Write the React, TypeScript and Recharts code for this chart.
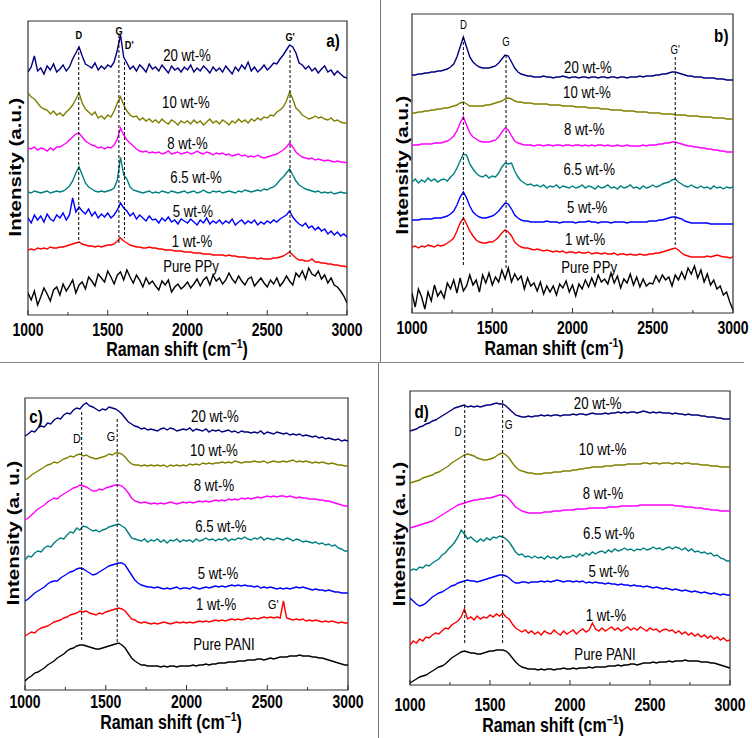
import React from "react";
import { LineChart, Line, XAxis, YAxis, ReferenceLine, ReferenceDot, ReferenceArea } from "recharts";

const ramanShift = [
  1000, 1020, 1040, 1060, 1080, 1100, 1120, 1140, 1160, 1180,
  1200, 1220, 1240, 1260, 1280, 1300, 1320, 1340, 1360, 1380,
  1400, 1420, 1440, 1460, 1480, 1500, 1520, 1540, 1560, 1580,
  1600, 1620, 1640, 1660, 1680, 1700, 1720, 1740, 1760, 1780,
  1800, 1820, 1840, 1860, 1880, 1900, 1920, 1940, 1960, 1980,
  2000, 2020, 2040, 2060, 2080, 2100, 2120, 2140, 2160, 2180,
  2200, 2220, 2240, 2260, 2280, 2300, 2320, 2340, 2360, 2380,
  2400, 2420, 2440, 2460, 2480, 2500, 2520, 2540, 2560, 2580,
  2600, 2620, 2640, 2660, 2680, 2700, 2720, 2740, 2760, 2780,
  2800, 2820, 2840, 2860, 2880, 2900, 2920, 2940, 2960, 2980,
  3000,
];
const xTicks = [1000, 1250, 1500, 1750, 2000, 2250, 2500, 2750, 3000];

const ppyNames = ["20 wt-%", "10 wt-%", "8 wt-%", "6.5 wt-%", "5 wt-%", "1 wt-%", "Pure PPy"];
const paniNames = ["20 wt-%", "10 wt-%", "8 wt-%", "6.5 wt-%", "5 wt-%", "1 wt-%", "Pure PANI"];
const seriesColors = ["#000080", "#808000", "#ff00ff", "#008080", "#0000ff", "#ff0000", "#000000"];

// ---------- panel a ----------
const a20 = [243,248,259,244,247,241,249,245,251,243,246,250,244,248,256,262,268,259,251,249,247,252,245,249,246,250,248,253,265,280,258,252,246,249,244,250,247,243,251,246,248,244,250,246,242,249,245,247,243,248,245,250,243,247,244,249,246,242,248,244,247,243,249,245,241,248,244,250,246,253,244,248,243,246,250,245,248,252,251,256,260,265,270,268,262,252,250,246,249,244,247,242,246,249,243,245,240,244,241,238,237];
const a10 = [222,218,216,212,208,206,205,201,204,200,202,199,203,206,210,216,222,212,206,203,200,203,197,199,196,200,198,204,212,218,210,204,200,198,199,195,197,194,196,193,195,192,196,193,191,195,193,190,194,192,194,191,195,192,194,190,193,196,192,194,191,195,193,190,194,192,196,193,195,192,196,194,197,195,198,197,200,199,203,205,208,214,223,216,207,204,200,198,196,197,199,197,198,196,195,197,194,195,193,192,192];
const a8 = [167,166,168,165,167,166,164,167,165,168,168,170,172,175,178,181,182,178,174,172,170,169,167,168,166,168,167,170,176,187,180,175,172,169,166,164,163,164,162,163,162,163,161,162,164,161,162,163,161,162,163,161,162,164,162,161,163,162,160,162,161,162,160,161,159,160,161,159,160,158,159,158,160,158,157,158,159,160,161,163,165,168,172,168,163,160,158,157,156,157,155,156,155,154,155,154,153,154,153,153,152];
const a65 = [123,122,124,123,122,123,124,122,123,124,123,124,126,129,134,142,148,140,132,128,126,124,123,124,123,124,125,127,135,158,140,136,128,125,124,123,122,123,124,122,123,122,124,123,122,124,123,122,123,124,122,123,124,122,123,125,123,122,124,123,124,122,123,124,123,122,124,123,125,124,123,124,125,124,126,125,127,128,131,135,138,142,146,140,134,130,128,126,125,124,123,124,122,123,122,123,121,122,123,122,122];
const a5 = [97,92,100,95,99,93,101,96,94,100,97,102,95,100,117,103,108,104,101,106,99,103,97,101,98,102,97,100,105,112,107,104,99,102,96,100,97,94,99,95,96,92,97,94,98,93,95,91,96,94,92,96,93,90,95,92,97,91,94,92,95,91,94,92,96,90,93,95,91,94,92,95,90,93,91,94,92,95,93,96,98,100,104,98,94,91,89,92,87,89,85,88,84,86,81,84,80,83,79,81,78];
const a1 = [65,66,65,67,66,67,66,68,67,67,68,68,69,70,71,72,73,71,70,69,69,68,69,68,69,70,70,71,74,77,74,72,70,69,68,68,67,67,68,67,67,66,66,65,65,65,64,64,64,63,63,63,62,62,62,61,61,61,60,60,60,60,59,60,59,59,58,58,58,57,57,57,56,57,56,56,56,57,57,58,59,61,63,60,57,55,55,54,54,56,53,53,52,52,51,51,50,50,49,49,48];
const aPure = [22,15,24,10,18,27,21,14,25,28,20,31,24,29,35,22,30,33,26,38,34,29,41,37,33,44,38,31,40,43,35,45,38,32,40,35,28,37,31,34,29,25,34,30,35,23,28,31,26,29,33,27,31,36,29,35,38,30,40,34,37,31,35,42,36,32,39,34,30,36,38,29,33,37,32,28,35,31,37,29,33,39,34,30,42,38,44,36,47,41,39,44,36,40,32,37,30,28,24,19,12];
const aLabelX = [1997, 1990, 2000, 2053, 2034, 2028, 2022];
const aLabelY = [260, 213, 172, 138, 104, 74, 49];
const aPeakText = ["D", "G", "D'", "G'"];
const aPeakX = [1318, 1571, 1635, 2643];
const aPeakY = [280, 284, 270, 278];
const aDashX = [1318, 1570, 1605, 2643];
const aDashTop = [268, 280, 253, 265];
const aDashBottom = [72, 72, 77, 58];

// ---------- panel b ----------
const b20 = [238,238,239,239,240,240,241,241,242,242,243,244,246,249,256,266,276,266,256,251,248,246,245,245,245,246,247,250,254,258,257,251,245,241,239,238,237,237,236,236,236,237,236,236,235,236,236,237,236,235,236,236,235,236,236,235,236,236,235,236,236,235,236,236,235,236,236,235,236,236,236,237,236,237,237,237,238,238,239,239,240,241,241,240,239,238,237,237,236,236,236,235,235,235,235,234,234,234,233,233,233];
const b10 = [200,200,201,201,202,202,203,203,204,204,205,205,206,207,208,210,211,209,207,207,207,207,207,208,208,209,210,211,212,214,215,214,212,211,211,210,210,210,209,209,209,209,209,208,208,208,208,207,207,207,207,206,206,206,206,205,205,205,205,204,204,204,203,203,203,203,202,202,202,202,201,201,201,201,200,200,200,200,199,199,199,199,198,198,198,198,197,197,197,197,196,196,196,196,195,195,195,195,194,194,194];
const b8 = [168,168,168,169,169,169,169,170,170,170,171,172,174,177,182,190,196,188,180,176,174,172,171,171,171,172,173,176,181,185,183,177,172,170,169,168,168,168,167,168,168,167,168,168,167,168,168,167,168,168,167,168,168,167,168,167,168,167,168,168,167,168,167,167,168,167,167,168,167,167,167,167,168,167,168,168,168,169,169,170,170,171,171,170,169,168,167,167,166,166,165,165,164,164,163,163,162,162,161,161,161];
const b65 = [131,134,130,133,131,135,132,134,131,133,134,132,136,139,145,152,159,158,149,144,140,137,136,138,135,137,136,140,146,150,149,150,142,136,132,130,128,129,127,128,126,128,125,127,126,128,125,127,126,125,127,125,126,128,125,127,126,124,127,125,126,128,125,126,124,127,125,126,128,125,126,124,127,125,126,128,126,127,129,130,131,133,134,131,129,127,126,128,126,125,127,125,126,124,127,125,126,124,126,125,126];
const b5 = [93,93,93,94,94,94,94,95,95,95,96,97,99,102,108,116,121,115,107,101,98,96,95,95,96,97,99,102,106,110,109,104,98,95,93,92,92,91,91,91,91,91,92,91,91,91,90,91,91,91,91,90,91,91,91,92,91,91,90,91,91,91,90,91,91,91,91,90,91,91,91,91,91,91,92,92,92,93,93,94,95,96,96,95,94,92,91,90,90,90,90,90,90,89,89,89,89,89,89,89,89];
const b1 = [66,67,65,67,66,68,67,66,68,67,68,70,72,75,82,90,95,89,82,77,73,71,70,70,71,71,73,76,80,83,81,77,71,68,66,65,65,64,63,64,63,62,63,62,61,62,61,62,60,61,61,60,61,60,60,61,59,60,60,59,60,59,59,60,58,59,59,58,59,58,58,59,58,58,59,59,60,60,61,62,63,64,65,63,60,58,57,56,56,56,56,56,57,56,57,58,57,56,56,55,56];
const bPure = [20,6,24,16,4,21,12,28,17,22,15,30,24,33,20,35,22,27,38,28,33,21,38,30,40,28,36,31,43,34,45,31,39,33,37,24,35,27,30,22,31,19,27,21,27,18,29,25,32,21,28,17,29,24,33,26,35,27,38,31,34,29,40,30,37,25,34,30,39,28,36,26,34,27,30,29,37,31,38,33,36,27,38,33,41,34,45,39,47,35,43,31,39,28,33,24,27,18,21,11,3];
const bLabelX = [2096, 2090, 2073, 2104, 2091, 2079, 2104];
const bLabelY = [246, 221, 184, 144, 106, 74, 46];
const bPeakText = ["D", "G", "G'"];
const bPeakX = [1320, 1586, 2640];
const bPeakY = [288, 271, 263];
const bDashX = [1320, 1586, 2640];
const bDashTop = [276, 258, 256];
const bDashBottom = [46, 44, 68];

// ---------- panel c ----------
const c20 = [254,256,259,258,262,264,263,267,266,270,272,271,275,277,276,280,282,281,285,287,284,283,281,279,281,280,283,282,281,279,276,272,268,266,264,263,261,262,260,261,260,259,261,262,260,262,261,259,260,261,260,262,259,261,260,259,261,258,260,259,260,258,259,260,258,259,257,259,258,258,257,258,257,259,256,258,257,256,258,257,256,257,255,256,255,256,254,255,254,253,254,252,253,251,252,251,250,251,249,250,249];
const c10 = [210,212,215,217,219,221,223,225,226,228,227,229,231,232,234,233,235,236,234,235,233,232,231,232,233,234,236,235,237,237,236,233,229,226,225,225,224,225,224,225,224,225,224,225,223,225,224,225,224,225,224,226,225,226,225,227,226,227,226,227,227,228,227,228,227,229,228,227,228,228,228,229,228,228,229,227,228,229,228,228,229,228,229,230,228,229,228,229,228,227,228,227,228,227,226,227,226,225,225,224,224];
const c8 = [170,172,175,178,181,183,185,188,190,192,191,194,196,198,200,202,203,205,204,203,201,199,199,201,200,202,203,204,205,205,204,201,197,192,189,188,187,188,187,186,187,186,187,186,187,188,187,186,187,188,187,188,187,188,189,188,189,188,189,190,189,190,189,191,190,191,190,192,191,192,191,192,193,192,193,194,193,194,193,194,194,193,194,193,192,193,192,192,191,191,191,190,190,189,189,188,187,186,185,184,184];
const c65 = [130,134,133,137,139,138,142,144,143,147,150,152,151,155,158,157,162,160,164,163,161,159,160,158,160,161,163,164,165,166,164,162,157,152,151,150,149,151,148,150,149,151,148,150,147,150,149,151,148,150,149,150,148,151,149,150,152,150,151,149,151,150,152,149,151,150,152,151,153,151,150,152,151,153,150,152,151,150,152,151,150,152,151,149,151,150,148,149,148,147,148,146,147,145,146,144,145,142,141,139,139];
const c5 = [89,91,94,97,99,101,103,106,108,109,109,112,114,116,118,119,121,122,121,119,117,115,116,118,120,122,124,125,126,127,127,125,120,115,110,107,105,104,103,103,102,103,102,101,102,101,102,103,101,102,102,101,103,102,101,102,103,102,103,104,103,104,103,104,105,104,105,104,105,104,104,103,104,102,103,102,103,102,101,102,101,102,101,102,103,102,103,102,101,100,101,100,100,99,100,99,98,98,97,97,97];
const c1 = [54,56,58,57,60,62,63,64,66,68,69,70,72,73,75,76,77,79,78,79,77,76,75,77,76,78,79,80,81,82,81,79,75,71,70,68,67,68,67,66,67,66,67,68,67,66,67,68,67,68,67,68,67,68,69,68,69,68,69,70,69,70,69,70,71,70,71,70,71,72,71,72,71,72,73,72,73,72,73,72,89,72,71,70,71,70,71,69,70,69,70,69,68,69,68,69,68,67,68,67,67];
const cPure = [9,12,14,17,18,20,22,25,27,29,32,34,36,39,41,42,44,45,45,44,43,42,41,41,42,43,44,45,46,47,45,42,37,32,29,27,25,25,24,24,24,24,23,24,23,24,24,23,24,24,24,24,25,24,25,25,26,25,26,26,27,27,27,28,28,28,29,29,29,30,30,30,31,31,30,31,32,31,32,33,33,33,34,34,34,35,34,34,34,33,33,32,32,31,30,29,28,27,26,25,25];
const cLabelX = [2176, 2170, 2170, 2213, 2195, 2183, 2232];
const cLabelY = [274, 240, 205, 164, 117, 86, 46];
const cPeakText = ["D", "G", "G'"];
const cPeakX = [1322, 1532, 2537];
const cPeakY = [251, 253, 85];
const cDashX = [1351, 1571];
const cDashTop = [278, 271];
const cDashBottom = [48, 47];

// ---------- panel d ----------
const d20 = [254,255,256,258,259,261,262,264,265,267,269,271,273,275,277,278,279,280,278,279,278,279,278,279,280,280,281,282,281,281,279,276,273,270,269,268,268,269,268,269,269,270,269,270,269,270,270,269,270,270,270,271,270,271,271,270,271,272,271,271,271,272,271,272,272,273,272,273,272,273,273,272,273,274,273,272,273,272,273,272,272,272,271,272,271,271,270,271,270,270,270,269,269,268,268,268,267,267,266,266,266];
const d10 = [202,203,204,205,207,208,209,210,212,213,215,217,219,222,224,226,228,230,231,230,229,227,226,225,225,226,227,229,231,232,230,227,222,218,215,214,213,212,212,211,211,211,212,212,212,213,213,213,214,214,214,215,215,216,216,217,217,218,218,218,218,219,219,219,220,220,220,220,221,221,221,221,221,222,222,221,222,222,221,222,222,222,221,222,222,221,222,222,221,221,221,220,220,220,219,219,219,218,218,218,218];
const d8 = [157,158,159,160,161,162,163,164,166,168,170,172,174,176,178,180,181,182,183,184,185,185,186,186,187,187,188,189,190,190,189,186,182,178,176,174,173,172,172,172,172,172,173,173,173,174,174,174,175,175,175,175,176,176,176,176,177,177,177,177,177,177,178,178,178,178,179,179,179,179,179,179,180,180,180,180,180,180,180,180,180,180,180,179,179,179,178,178,178,177,177,177,176,176,175,175,175,174,174,174,174];
const d65 = [114,116,115,118,117,120,119,122,124,126,130,132,136,139,143,148,155,151,146,148,145,143,146,144,147,145,148,147,149,148,146,143,138,133,130,131,128,129,127,129,127,128,126,129,127,128,126,129,127,128,128,130,128,131,129,132,130,133,131,133,134,132,135,133,136,134,135,137,135,136,134,136,135,137,135,136,138,136,137,135,137,138,136,138,137,135,137,134,136,133,134,132,133,131,132,129,130,127,126,124,124];
const d5 = [87,84,81,79,80,82,85,88,90,92,93,95,97,99,100,102,103,104,105,104,104,103,104,105,106,107,108,109,110,110,109,107,104,102,102,103,103,102,103,103,103,104,103,104,103,104,105,104,103,104,104,103,104,103,104,102,103,102,103,102,102,101,102,101,101,100,101,100,100,99,100,99,99,98,99,98,97,98,97,96,97,96,95,96,95,94,95,94,93,94,93,92,93,92,91,92,91,90,91,90,90];
const d1 = [40,44,42,46,44,48,47,50,52,51,54,57,56,60,62,64,68,76,66,68,65,69,66,68,67,70,68,71,69,72,68,66,61,57,55,53,55,52,54,51,53,50,54,52,51,55,52,50,54,51,53,55,51,54,56,53,55,62,56,54,57,54,56,58,55,57,54,56,58,55,57,55,58,56,54,57,55,56,53,55,56,54,55,52,54,51,53,50,52,49,51,48,50,47,49,46,48,45,47,44,45];
const dPure = [2,4,6,8,9,10,12,14,16,18,19,21,24,27,29,31,33,34,33,32,32,31,31,32,33,34,34,35,35,35,34,31,27,23,20,18,17,16,16,16,15,16,15,16,16,15,16,16,17,16,16,17,16,17,17,17,18,17,18,18,18,18,19,19,19,20,19,20,20,21,21,20,21,22,22,22,23,22,23,23,23,24,23,24,24,24,25,24,24,24,24,23,23,23,22,22,21,20,19,18,17];
const dLabelX = [2173, 2204, 2206, 2242, 2242, 2225, 2219];
const dLabelY = [282, 236, 192, 152, 114, 70, 31];
const dPeakText = ["D", "G"];
const dPeakX = [1300, 1617];
const dPeakY = [253, 260];
const dDashX = [1342, 1579];
const dDashTop = [280, 285];
const dDashBottom = [42, 42];

const FONT = "'Liberation Sans', Arial, Helvetica, sans-serif";
const SQ = 0.8;

function SqText(props: any) {
  const { x, y, text, size, bold } = props;
  return (
    <text
      transform={`translate(${x},${y}) scale(${SQ},1)`}
      textAnchor="middle"
      dominantBaseline="central"
      fontSize={size}
      fontWeight={bold ? "bold" : "normal"}
      fontFamily={FONT}
      fill="#000"
    >
      {text}
    </text>
  );
}

function XTick(props: any) {
  const { x, y, payload, off } = props;
  const major = payload.value % 500 === 0;
  return (
    <g>
      <line x1={x} x2={x} y1={y} y2={y - (major ? 5 : 3)} stroke="#333" strokeWidth={1} />
      {major && (
        <text
          transform={`translate(${x},${y + off}) scale(${SQ},1)`}
          textAnchor="middle"
          fontSize={17.5}
          fontWeight="bold"
          fontFamily={FONT}
          fill="#000"
        >
          {payload.value}
        </text>
      )}
    </g>
  );
}

const panels = [
  {
    key: "a", left: 0, top: 0, width: 376, height: 362, mt: 21, mr: 29, yw: 28, xh: 47, ymax: 294,
    series: [a20, a10, a8, a65, a5, a1, aPure], names: ppyNames, labelX: aLabelX, labelY: aLabelY,
    peakText: aPeakText, peakX: aPeakX, peakY: aPeakY, peakSize: 11.5, peakBold: true,
    dashX: aDashX, dashTop: aDashTop, dashBottom: aDashBottom,
    letter: "a)", letterX: 2912, letterY: 275, tickOff: 21,
    xt: [177, 356], yt: [21, 167], ytitle: "Intensity (a.u.)", minus: "\u22121",
  },
  {
    key: "b", left: 381, top: 0, width: 371, height: 362, mt: 14, mr: 19, yw: 31, xh: 49, ymax: 299,
    series: [b20, b10, b8, b65, b5, b1, bPure], names: ppyNames, labelX: bLabelX, labelY: bLabelY,
    peakText: bPeakText, peakX: bPeakX, peakY: bPeakY, peakSize: 12, peakBold: false,
    dashX: bDashX, dashTop: bDashTop, dashBottom: bDashBottom,
    letter: "b)", letterX: 2927, letterY: 278, tickOff: 21,
    xt: [173, 355], yt: [27, 165], ytitle: "Intensity (a.u.)", minus: "-1",
  },
  {
    key: "c", left: 0, top: 364, width: 376, height: 374, mt: 34, mr: 28, yw: 25, xh: 48, ymax: 292,
    series: [c20, c10, c8, c65, c5, c1, cPure], names: paniNames, labelX: cLabelX, labelY: cLabelY,
    peakText: cPeakText, peakX: cPeakX, peakY: cPeakY, peakSize: 13.5, peakBold: false,
    dashX: cDashX, dashTop: cDashTop, dashBottom: cDashBottom,
    letter: "c)", letterX: 1068, letterY: 274, tickOff: 18,
    xt: [171, 365], yt: [19, 169], ytitle: "Intensity (a. u.)", minus: "\u22121",
  },
  {
    key: "d", left: 381, top: 364, width: 371, height: 374, mt: 27, mr: 22, yw: 29, xh: 53, ymax: 294,
    series: [d20, d10, d8, d65, d5, d1, dPure], names: paniNames, labelX: dLabelX, labelY: dLabelY,
    peakText: dPeakText, peakX: dPeakX, peakY: dPeakY, peakSize: 12.5, peakBold: false,
    dashX: dDashX, dashTop: dDashTop, dashBottom: dDashBottom,
    letter: "d)", letterX: 1073, letterY: 274, tickOff: 26,
    xt: [172, 368], yt: [24, 170], ytitle: "Intensity (a. u.)", minus: "\u22121",
  },
];

function Panel({ cfg }: any) {
  const rows = ramanShift.map((x, i) => {
    const r: any = { x };
    cfg.series.forEach((s: number[], k: number) => {
      r["s" + k] = s[i];
    });
    return r;
  });
  const xTitle = () => (
    <text
      transform={`translate(${cfg.xt[0]},${cfg.xt[1]}) scale(${SQ},1)`}
      textAnchor="middle"
      fontSize={20}
      fontWeight="bold"
      fontFamily={FONT}
      fill="#000"
    >
      Raman shift (cm
      <tspan dy={-8} fontSize={13}>{cfg.minus}</tspan>
      <tspan dy={8}>)</tspan>
    </text>
  );
  const yTitle = () => (
    <text
      transform={`translate(${cfg.yt[0]},${cfg.yt[1]}) rotate(-90) scale(1,${SQ})`}
      textAnchor="middle"
      fontSize={20.5}
      fontWeight="bold"
      fontFamily={FONT}
      fill="#000"
    >
      {cfg.ytitle}
    </text>
  );
  return (
    <div style={{ position: "absolute", left: cfg.left, top: cfg.top }}>
      <LineChart
        width={cfg.width}
        height={cfg.height}
        data={rows}
        margin={{ top: cfg.mt, right: cfg.mr, left: 0, bottom: 0 }}
      >
        <XAxis
          dataKey="x"
          type="number"
          domain={[1000, 3000]}
          ticks={xTicks}
          interval={0}
          allowDataOverflow
          height={cfg.xh}
          axisLine={false}
          tickLine={false}
          tickSize={0}
          tickMargin={0}
          tick={(p: any) => <XTick {...p} off={cfg.tickOff} />}
          label={{ content: xTitle }}
        />
        <YAxis
          type="number"
          domain={[0, cfg.ymax]}
          allowDataOverflow
          width={cfg.yw}
          tick={false}
          axisLine={false}
          tickLine={false}
          label={{ content: yTitle }}
        />
        <ReferenceArea
          x1={1000}
          x2={3000}
          y1={0}
          y2={cfg.ymax}
          fill="none"
          fillOpacity={0}
          stroke="#333"
          strokeWidth={1.2}
          ifOverflow="visible"
        />
        {cfg.series.map((_: any, k: number) => (
          <Line
            key={"l" + k}
            dataKey={"s" + k}
            stroke={seriesColors[k]}
            strokeWidth={1.4}
            dot={false}
            type="linear"
            isAnimationActive={false}
          />
        ))}
        {cfg.dashX.map((x: number, k: number) => (
          <ReferenceLine
            key={"dash" + k}
            segment={[{ x, y: cfg.dashTop[k] }, { x, y: cfg.dashBottom[k] }]}
            stroke="#000"
            strokeWidth={1}
            strokeDasharray="3 2"
            ifOverflow="visible"
          />
        ))}
        {cfg.names.map((name: string, k: number) => (
          <ReferenceDot
            key={"n" + k}
            x={cfg.labelX[k]}
            y={cfg.labelY[k]}
            r={0}
            fill="none"
            stroke="none"
            ifOverflow="visible"
            label={(p: any) => <SqText x={p.viewBox.x} y={p.viewBox.y} text={name} size={16.5} />}
          />
        ))}
        {cfg.peakText.map((t: string, k: number) => (
          <ReferenceDot
            key={"p" + k}
            x={cfg.peakX[k]}
            y={cfg.peakY[k]}
            r={0}
            fill="none"
            stroke="none"
            ifOverflow="visible"
            label={(p: any) => <SqText x={p.viewBox.x} y={p.viewBox.y} text={t} size={cfg.peakSize} bold={cfg.peakBold} />}
          />
        ))}
        <ReferenceDot
          x={cfg.letterX}
          y={cfg.letterY}
          r={0}
          fill="none"
          stroke="none"
          ifOverflow="visible"
          label={(p: any) => <SqText x={p.viewBox.x} y={p.viewBox.y} text={cfg.letter} size={19} bold />}
        />
      </LineChart>
    </div>
  );
}

export default function App() {
  return (
    <div
      style={{
        position: "fixed",
        left: 0,
        top: 0,
        width: 752,
        height: 738,
        background: "#fff",
        overflow: "hidden",
      }}
    >
      {panels.map((cfg) => (
        <Panel key={cfg.key} cfg={cfg} />
      ))}
      <div style={{ position: "absolute", left: 380, top: 0, width: 1, height: 362, background: "#777" }} />
      <div style={{ position: "absolute", left: 378, top: 362, width: 1, height: 376, background: "#777" }} />
      <div style={{ position: "absolute", left: 0, top: 362, width: 744, height: 1, background: "#888" }} />
    </div>
  );
}
